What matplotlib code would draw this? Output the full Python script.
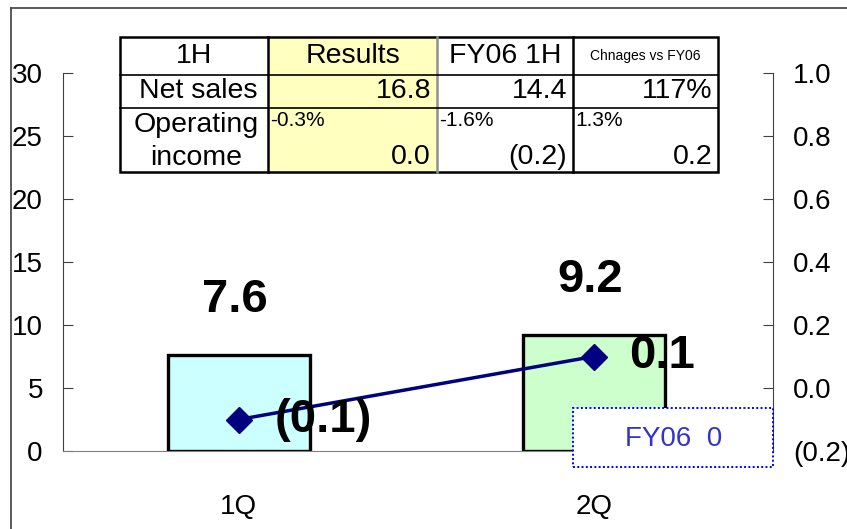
import numpy as np
import matplotlib.pyplot as plt
from matplotlib.patches import Rectangle
from matplotlib.lines import Line2D

plt.rcParams["font.family"] = ["Liberation Sans", "DejaVu Sans"]

# data
quarters = ["1Q", "2Q"]
net_sales = [7.6, 9.2]
op_income = [-0.1, 0.1]
op_income_labels = ["(0.1)", "0.1"]
bar_colors = ["#CCFFFF", "#CCFFCC"]

left_ticks = [0, 5, 10, 15, 20, 25, 30]
right_ticks = [-0.2, 0.0, 0.2, 0.4, 0.6, 0.8, 1.0]
right_labels = ["(0.2)", "0.0", "0.2", "0.4", "0.6", "0.8", "1.0"]

table_rows = [
    ["1H", "Results", "FY06 1H", "Chnages vs FY06"],
    ["Net sales", "16.8", "14.4", "117%"],
    ["Operating\nincome", "0.0", "(0.2)", "0.2"],
]
margin_pcts = ["-0.3%", "-1.6%", "1.3%"]
note_text = "FY06  0"

W, H = 847, 529
fig = plt.figure(figsize=(W / 100, H / 100), dpi=100)


def fx(px):
    return px / W


def fy(py):
    return 1 - py / H


# outer frame
fig.add_artist(Line2D([fx(11), fx(11)], [fy(8), 0], color="#404040", lw=1.2))
fig.add_artist(Line2D([fx(11), 1], [fy(8), fy(8)], color="#404040", lw=1.2))

ax = fig.add_axes([fx(63), fy(451), fx(773) - fx(63), fy(73) - fy(451)])
ax2 = ax.twinx()

x = np.arange(len(quarters))
ax.bar(x, net_sales, width=0.4, color=bar_colors, edgecolor="black",
       linewidth=2.4, zorder=2)
ax.set_xlim(-0.495, 1.505)
ax.set_ylim(0, 30)
ax.set_yticks(left_ticks)
ax.set_xticks(x)
ax.set_xticklabels(quarters, fontsize=20)
ax.tick_params(axis="x", length=0, pad=31)
ax.tick_params(axis="y", direction="in", length=7, pad=14.5, labelsize=20,
               color="#404040")
ax.spines["top"].set_visible(False)
ax.spines["bottom"].set_color("#808080")
ax.spines["left"].set_color("#404040")
ax.spines["right"].set_visible(False)

for xi, v in zip(x, net_sales):
    ax.text(xi - 0.01, v + 4.4, f"{v}", ha="center", va="center",
            fontsize=34, fontweight="bold")

ax2.plot(x, op_income, color="#000080", lw=2.5, marker="D",
         markersize=13, zorder=3)
ax2.set_ylim(-0.2, 1.0)
ax2.set_yticks(right_ticks)
ax2.set_yticklabels(right_labels)
ax2.tick_params(axis="y", direction="in", length=7, pad=14.5, labelsize=20,
                color="#404040")
for s in ["top", "left", "bottom"]:
    ax2.spines[s].set_visible(False)
ax2.spines["right"].set_color("#404040")

for xi, v, lab in zip(x, op_income, op_income_labels):
    ax2.text(xi + 0.1, v, lab, ha="left", va="center",
             fontsize=34, fontweight="bold", zorder=4)

# summary table drawn in pixel coordinates
cols = [120, 268, 437, 573, 718]
rows = [37, 75, 108, 172]
fig.add_artist(Rectangle((fx(cols[1]), fy(rows[3])), fx(cols[2]) - fx(cols[1]),
                         fy(rows[0]) - fy(rows[3]), facecolor="#FFFFC0",
                         edgecolor="none", zorder=5))
fig.add_artist(Rectangle((fx(cols[0]), fy(rows[3])), fx(cols[4]) - fx(cols[0]),
                         fy(rows[0]) - fy(rows[3]), facecolor="none",
                         edgecolor="black", lw=1.8, zorder=6))
for c in cols[1:-1]:
    fig.add_artist(Line2D([fx(c), fx(c)], [fy(rows[0]), fy(rows[3])],
                          color="#909090" if c == cols[2] else "black",
                          lw=1.8, zorder=6))
for r in rows[1:-1]:
    fig.add_artist(Line2D([fx(cols[0]), fx(cols[4])], [fy(r), fy(r)],
                          color="black", lw=1.2, zorder=6))

for j, txt in enumerate(table_rows[0]):
    cx = (cols[j] + cols[j + 1]) / 2
    fig.text(fx(cx), fy(56), txt, ha="center", va="center",
             fontsize=10 if j == 3 else 20.5, zorder=7)
fig.text(fx(198), fy(91), table_rows[1][0], ha="center", va="center",
         fontsize=20.5, zorder=7)
for j in range(1, 4):
    fig.text(fx(cols[j + 1] - 6), fy(91), table_rows[1][j], ha="right",
             va="center", fontsize=20.5, zorder=7)
for line, yy in zip(table_rows[2][0].split("\n"), [125, 158]):
    fig.text(fx(196), fy(yy), line, ha="center", va="center",
             fontsize=20.5, zorder=7)
for j in range(1, 4):
    fig.text(fx(cols[j] + 2), fy(121), margin_pcts[j - 1], ha="left",
             va="center", fontsize=15, zorder=7)
    fig.text(fx(cols[j + 1] - 6), fy(157), table_rows[2][j], ha="right",
             va="center", fontsize=20.5, zorder=7)

# note box
fig.add_artist(Rectangle((fx(573), fy(467)), fx(773) - fx(573),
                         fy(408) - fy(467), facecolor="white",
                         edgecolor="#0000FF", lw=1.4, linestyle=(0, (1, 1.2)),
                         zorder=5))
fig.text(fx(674), fy(439), note_text, ha="center", va="center",
         fontsize=20, color="#3333CC", zorder=6)

fig.savefig("out.png", dpi=100)
